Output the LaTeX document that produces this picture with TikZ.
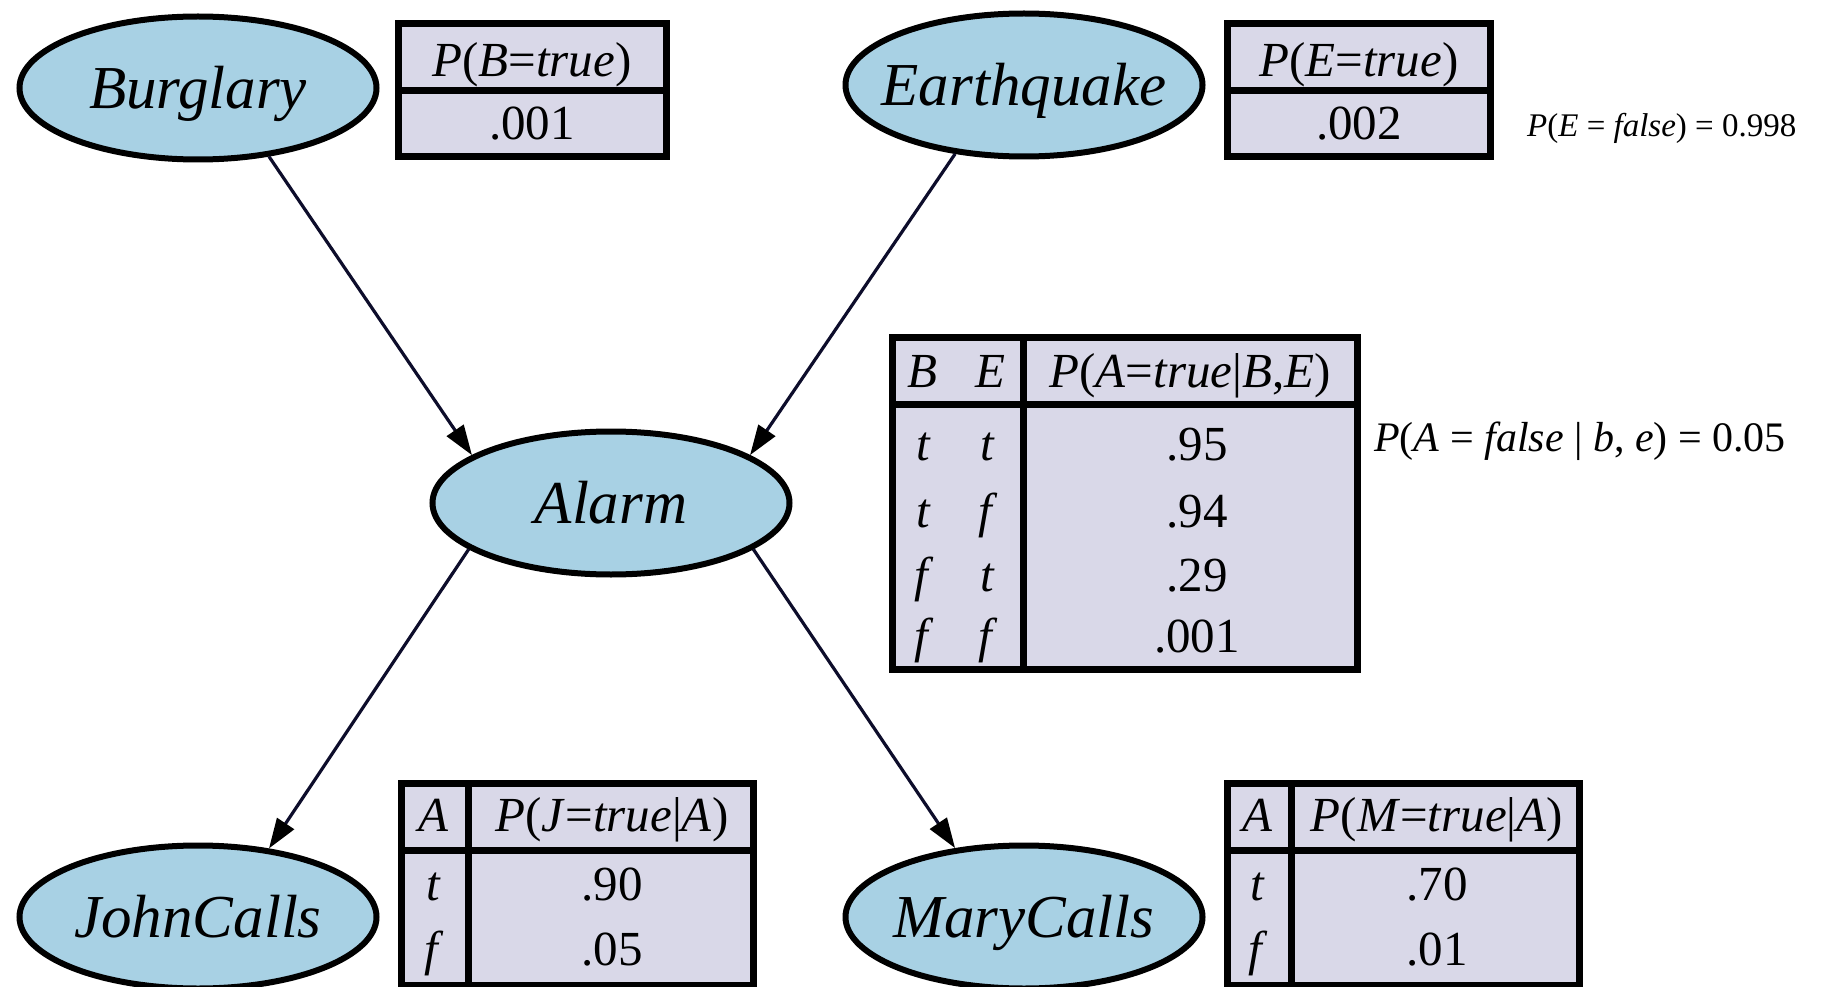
\documentclass[tikz,border=0pt]{standalone}
\usepackage{fontspec}
\setmainfont{Liberation Serif}
\usetikzlibrary{shapes.geometric,arrows.meta}
\definecolor{nodeblue}{HTML}{A8D1E4}
\definecolor{cptfill}{HTML}{D9D8E8}
\definecolor{edgecol}{HTML}{0D0D2B}
\tikzset{
  bnode/.style={ellipse, draw=black, line width=6pt, fill=nodeblue,
    minimum width=357pt, minimum height=143pt, inner sep=0pt,
    font=\fontsize{61}{66}\selectfont\itshape, text height=56pt, text depth=15pt},
  cptframe/.style={draw=black, line width=7pt, fill=cptfill},
  cptline/.style={draw=black, line width=7pt},
  cpttext/.style={anchor=base, inner sep=0pt, font=\fontsize{49}{52}\selectfont},
  bnedge/.style={draw=edgecol, line width=3.2pt, -{Triangle[length=30pt,width=20pt,color=black]}},
  noteA/.style={anchor=west, inner sep=0pt, font=\fontsize{33}{36}\selectfont},
  noteB/.style={anchor=west, inner sep=0pt, font=\fontsize{42}{46}\selectfont},
}
\newcommand{\bnlabel}[1]{\makebox[0pt]{#1}}
\begin{document}
\begin{tikzpicture}[x=1pt,y=-1pt]
\useasboundingbox (0,0) rectangle (1845,987);

% CPT for Burglary
\draw[cptframe] (398.5,23.5) rectangle (666.5,156.5);
\draw[cptline] (398.5,91) -- (666.5,91);
\node[cpttext] (pbh) at (532,77) {\textit{P}(\textit{B}=\textit{true})};
\node[cpttext] (pbv) at (532,140) {.001};

% CPT for Earthquake
\draw[cptframe] (1227.5,23.5) rectangle (1490.5,156.5);
\draw[cptline] (1227.5,91) -- (1490.5,91);
\node[cpttext] (peh) at (1359,77) {\textit{P}(\textit{E}=\textit{true})};
\node[cpttext] (pev) at (1359,140) {.002};
\node[noteA] (pef) at (1527,128) {\textit{P}(\textit{E} = \textit{false}) = 0.998};

% CPT for Alarm
\draw[cptframe] (892.5,337.5) rectangle (1357.5,669.5);
\draw[cptline] (892.5,404) -- (1357.5,404);
\draw[cptline] (1023,337.5) -- (1023,669.5);
\node[cpttext] (pah1) at (922,387) {\textit{B}};
\node[cpttext] (pah2) at (990,387) {\textit{E}};
\node[cpttext] (pah3) at (1190,387) {\textit{P}(\textit{A}=\textit{true}|\textit{B},\textit{E})};
\node[cpttext] (pa11) at (924,460) {\textit{t}};
\node[cpttext] (pa12) at (988,460) {\textit{t}};
\node[cpttext] (pa13) at (1197,460) {.95};
\node[cpttext] (pa21) at (924,527) {\textit{t}};
\node[cpttext] (pa22) at (988,527) {\textit{f}};
\node[cpttext] (pa23) at (1197,527) {.94};
\node[cpttext] (pa31) at (924,591) {\textit{f}};
\node[cpttext] (pa32) at (988,591) {\textit{t}};
\node[cpttext] (pa33) at (1197,591) {.29};
\node[cpttext] (pa41) at (924,652) {\textit{f}};
\node[cpttext] (pa42) at (988,652) {\textit{f}};
\node[cpttext] (pa43) at (1197,652) {.001};
\node[noteB] (paf) at (1374,441) {\textit{P}(\textit{A} = \textit{false} | \textit{b}, \textit{e}) = 0.05};

% CPT for JohnCalls
\draw[cptframe] (401.5,783.5) rectangle (753.5,985.5);
\draw[cptline] (401.5,850) -- (753.5,850);
\draw[cptline] (468,783.5) -- (468,985.5);
\node[cpttext] (pjh1) at (434,831) {\textit{A}};
\node[cpttext] (pjh2) at (612,831) {\textit{P}(\textit{J}=\textit{true}|\textit{A})};
\node[cpttext] (pj11) at (434,900) {\textit{t}};
\node[cpttext] (pj12) at (612,900) {.90};
\node[cpttext] (pj21) at (434,965) {\textit{f}};
\node[cpttext] (pj22) at (612,965) {.05};

% CPT for MaryCalls
\draw[cptframe] (1227.5,783.5) rectangle (1579.5,985.5);
\draw[cptline] (1227.5,850) -- (1579.5,850);
\draw[cptline] (1291,783.5) -- (1291,985.5);
\node[cpttext] (pmh1) at (1258,831) {\textit{A}};
\node[cpttext] (pmh2) at (1437,831) {\textit{P}(\textit{M}=\textit{true}|\textit{A})};
\node[cpttext] (pm11) at (1258,900) {\textit{t}};
\node[cpttext] (pm12) at (1437,900) {.70};
\node[cpttext] (pm21) at (1258,965) {\textit{f}};
\node[cpttext] (pm22) at (1437,965) {.01};

% Network nodes
\node[bnode] (bur) at (198,88) {\bnlabel{Burglary}};
\node[bnode] (eq) at (1024,85) {\bnlabel{Earthquake}};
\node[bnode] (al) at (611,503) {\bnlabel{Alarm}};
\node[bnode] (jc) at (198,917) {\bnlabel{JohnCalls}};
\node[bnode] (mc) at (1024,917) {\bnlabel{MaryCalls}};

% Edges
\draw[bnedge] (bur.-44) -- (al.161);
\draw[bnedge] (eq.-135) -- (al.19);
\draw[bnedge] (al.-162) -- (jc.44);
\draw[bnedge] (al.-18) -- (mc.135);
\end{tikzpicture}
\end{document}
